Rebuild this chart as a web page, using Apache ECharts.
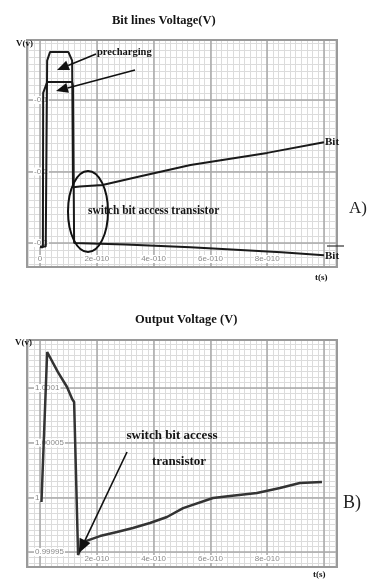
<!DOCTYPE html>
<html>
<head>
<meta charset="utf-8">
<script src="https://cdn.jsdelivr.net/npm/echarts@6/dist/echarts.min.js"></script>
<style>
    html, body {margin: 0; padding: 0; background: #fff;}
    #main {width: 373px; height: 582px;}
</style>
</head>
<body>
<div id="main"></div>
<script>
// time in units of 1e-10 s
const bitTime = [0, 0.2, 0.25, 0.35, 1.0, 1.13, 1.16, 1.4, 2.2, 3.5, 5.3, 8.0, 10.0];
const bitVolt = [-0.305, -0.305, -0.045, -0.033, -0.033, -0.045, -0.222, -0.221, -0.219, -0.207, -0.191, -0.174, -0.159];

const bitBarTime = [0, 0.1, 0.11, 0.25, 1.13, 1.16, 1.2, 3.0, 5.3, 8.5, 10.0];
const bitBarVolt = [-0.306, -0.306, -0.09, -0.075, -0.075, -0.08, -0.300, -0.302, -0.306, -0.313, -0.317];

const outTime = [0.05, 0.1, 0.25, 0.63, 0.95, 1.13, 1.2, 1.34, 1.51, 2.11, 2.71, 3.27, 3.87, 4.47, 5.04, 6.09, 6.69, 7.64, 8.45, 9.15, 9.93];
const outVolt = [0.9999957, 0.9999957, 1.0001329, 1.0001146, 1.0001009, 1.0000899, 1.0000872, 0.9999473, 0.9999591,
    0.9999646, 0.9999683, 0.999972, 0.9999765, 0.999982, 0.9999902, 0.9999994, 1.0000012, 1.000004, 1.0000085,
    1.0000131, 1.000014];

const timeTicks = [0, 2, 4, 6, 8, 10];
const bitTimeLabels = ['0', '2e-010', '4e-010', '6e-010', '8e-010', ''];
const outTimeLabels = ['', '2e-010', '4e-010', '6e-010', '8e-010', ''];
const bitTicks = [-0.3, -0.2, -0.1];
const bitTickLabels = ['-0.3', '-0.2', '-0.1'];
const outTicks = [0.99995, 1, 1.00005, 1.0001];
const outTickLabels = ['0.99995', '1', '1.00005', '1.0001'];

const zip = (xs, ys) => xs.map((x, i) => [x, ys[i]]);

const steps = (a, b, step) => {
    const out = [];
    for (let k = Math.ceil(a / step - 1e-9); k * step <= b + 1e-12; k++) out.push(+(k * step).toFixed(10));
    return out;
};

const labelFor = (ticks, labels) => (val) => {
    let best = 0;
    ticks.forEach((t, i) => {
        if (Math.abs(t - val) < Math.abs(ticks[best] - val)) best = i;
    });
    return labels[best];
};

const tMin = -0.46, tMax = 10.46;
const bitMin = -0.3336, bitMax = -0.0161;
const outMin = 0.9999363, outMax = 1.0001439;

const minorLine = {show: true, lineStyle: {color: '#dcdcdc', width: 1}};
const majorLine = {show: true, lineStyle: {color: '#a8a8a8', width: 1.5}};
const tickLabel = {
    show: true, inside: true, fontSize: 8, color: '#8a8a8a',
    fontFamily: 'Liberation Sans', backgroundColor: '#fff', padding: [0, 1]
};

const minorAxis = (grid, position, values, min, max) => ({
    gridIndex: grid, position, type: 'value', min, max, z: 0,
    axisLine: {show: false}, axisLabel: {show: false},
    axisTick: {show: false, customValues: values},
    splitLine: minorLine
});
const majorAxis = (grid, position, ticks, labels, min, max, margin) => ({
    gridIndex: grid, position, type: 'value', min, max, z: 1,
    axisLine: {show: false},
    axisTick: {show: false, customValues: ticks},
    axisLabel: Object.assign({}, tickLabel, {customValues: ticks, margin, formatter: labelFor(ticks, labels)}),
    splitLine: majorLine
});

const arrow = (x1, y1, x2, y2, len, half) => {
    const d = Math.hypot(x2 - x1, y2 - y1);
    const ux = (x2 - x1) / d, uy = (y2 - y1) / d;
    const bx = x2 - ux * len, by = y2 - uy * len;
    return [
        {type: 'line', shape: {x1, y1, x2: bx, y2: by}, style: {stroke: '#111', lineWidth: 1.6}, z: 10},
        {type: 'polygon', shape: {points: [[x2, y2], [bx - uy * half, by + ux * half], [bx + uy * half, by - ux * half]]},
            style: {fill: '#111'}, z: 10}
    ];
};

const serif = (size) => 'bold ' + size + 'px "Liberation Serif"';
const txt = (text, x, y, font, align) => ({
    type: 'text', z: 10,
    style: {text, x, y, font, fill: '#151515', align: align || 'left', verticalAlign: 'middle'}
});
const frame = (x, y, w, h) => ({
    type: 'rect', z: 9, shape: {x, y, width: w, height: h},
    style: {fill: 'none', stroke: '#9a9a9a', lineWidth: 2}
});

const myChart = echarts.init(document.getElementById('main'));
myChart.setOption({
    backgroundColor: '#fff',
    animation: false,
    title: [
        {text: 'Bit lines Voltage(V)', left: 107, top: 9,
            textStyle: {fontFamily: 'Liberation Serif', fontWeight: 'bold', fontSize: 12.5, color: '#151515'}},
        {text: 'Output Voltage (V)', left: 130, top: 308,
            textStyle: {fontFamily: 'Liberation Serif', fontWeight: 'bold', fontSize: 12.5, color: '#151515'}}
    ],
    grid: [
        {left: 27, top: 40, width: 310, height: 227, show: false},
        {left: 27, top: 340, width: 310, height: 227, show: false}
    ],
    xAxis: [
        minorAxis(0, 'bottom', steps(tMin, tMax, 0.2), tMin, tMax),
        majorAxis(0, 'bottom', timeTicks, bitTimeLabels, tMin, tMax, 4),
        minorAxis(1, 'bottom', steps(tMin, tMax, 0.2), tMin, tMax),
        majorAxis(1, 'bottom', timeTicks, outTimeLabels, tMin, tMax, 4)
    ],
    yAxis: [
        minorAxis(0, 'left', steps(bitMin, bitMax, 0.01), bitMin, bitMax),
        majorAxis(0, 'left', bitTicks, bitTickLabels, bitMin, bitMax, 6),
        minorAxis(1, 'left', steps(outMin, outMax, 0.000005), outMin, outMax),
        majorAxis(1, 'left', outTicks, outTickLabels, outMin, outMax, 7)
    ],
    series: [
        {name: 'Bit', type: 'line', xAxisIndex: 0, yAxisIndex: 0, data: zip(bitTime, bitVolt),
            symbol: 'none', lineStyle: {color: '#1a1a1a', width: 2}, z: 5},
        {name: 'Bit bar', type: 'line', xAxisIndex: 0, yAxisIndex: 0, data: zip(bitBarTime, bitBarVolt),
            symbol: 'none', lineStyle: {color: '#1a1a1a', width: 2}, z: 5},
        {name: 'Output', type: 'line', xAxisIndex: 2, yAxisIndex: 2, data: zip(outTime, outVolt),
            symbol: 'none', lineStyle: {color: '#333', width: 2.5}, z: 5}
    ],
    graphic: [
        frame(27, 40, 310, 227),
        frame(27, 340, 310, 227),
        txt('V(v)', 16, 44, serif(9)),
        txt('V(v)', 15, 343, serif(9)),
        txt('t(s)', 315, 278, serif(9)),
        txt('t(s)', 313, 575, serif(9)),
        txt('precharging', 97, 52, serif(10.5)),
        ...arrow(96, 54, 57, 70, 12, 5),
        ...arrow(135, 70, 56, 91, 12, 5),
        {type: 'ellipse', z: 10, shape: {cx: 88, cy: 211.5, rx: 20, ry: 40.5},
            style: {fill: 'none', stroke: '#111', lineWidth: 2}},
        txt('switch bit access transistor', 88, 211, serif(11.5)),
        txt('Bit', 325, 142, serif(11)),
        txt('Bit', 325, 256, serif(11)),
        {type: 'line', z: 10, shape: {x1: 327, y1: 246, x2: 344, y2: 246}, style: {stroke: '#333', lineWidth: 1.2}},
        {type: 'text', z: 10, style: {text: 'A)', x: 349, y: 209, font: '17px "Liberation Serif"', fill: '#222', verticalAlign: 'middle'}},
        txt('switch bit access', 172, 436, serif(13), 'center'),
        txt('transistor', 179, 462, serif(13), 'center'),
        ...arrow(127, 452, 79, 553, 14, 6),
        {type: 'text', z: 10, style: {text: 'B)', x: 343, y: 503, font: '18px "Liberation Serif"', fill: '#222', verticalAlign: 'middle'}}
    ]
});
</script>
</body>
</html>
